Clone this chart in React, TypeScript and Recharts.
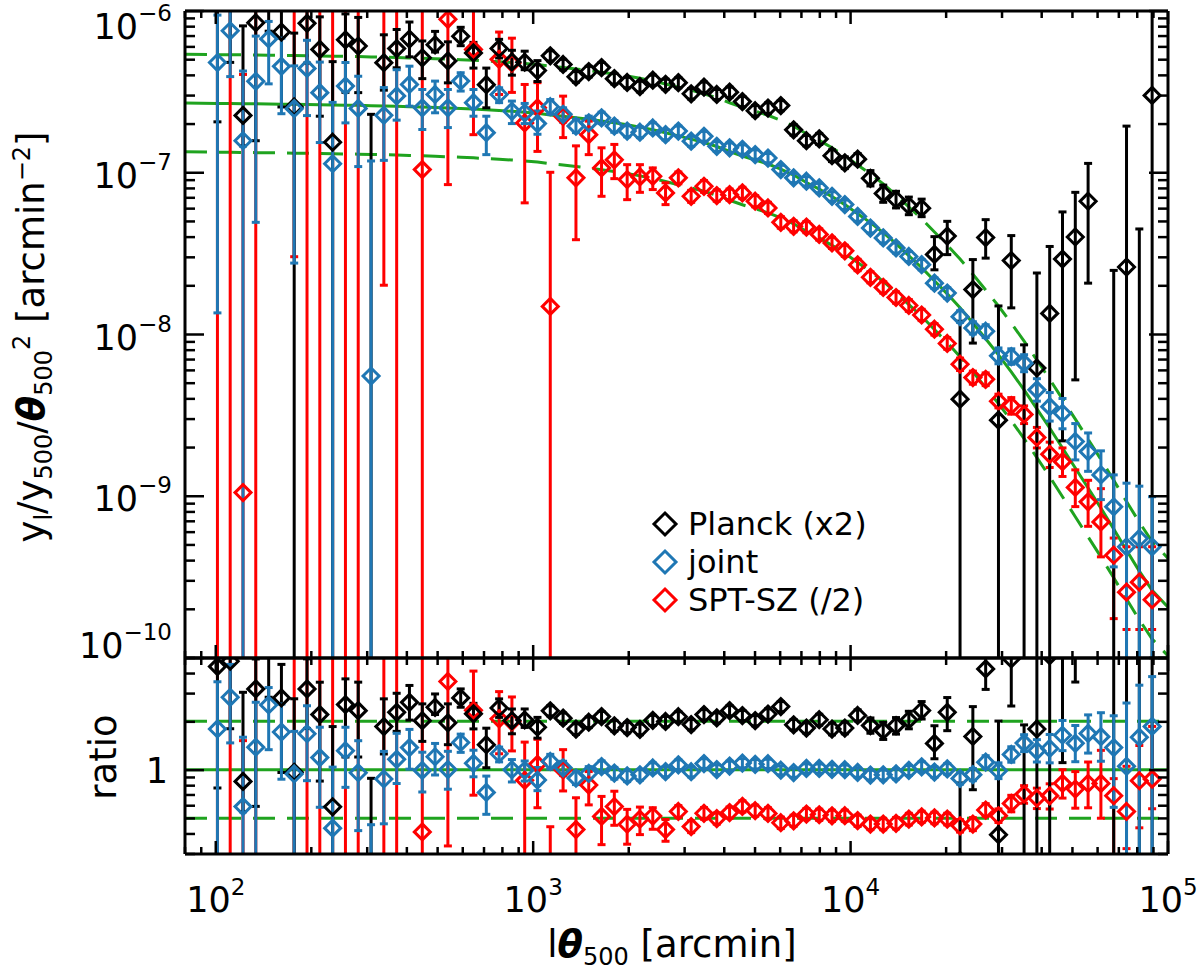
import { ComposedChart, Scatter, Line, XAxis, YAxis, ErrorBar, ReferenceLine } from 'recharts'

const FONT = "'DejaVu Sans', 'Liberation Sans', sans-serif"
const GREEN = '#1fa31f'
const BLUE = '#1f77b4'
const RED = '#ff0000'
const BLACK = '#000000'

// l*theta500 bins (arcmin)
const lTheta = [
  101.2, 111.0, 121.8, 133.6, 146.7, 160.9, 176.5, 193.7, 212.5, 233.2,
  255.9, 280.7, 308.1, 338.0, 370.9, 406.9, 446.6, 489.9, 537.6, 589.9,
  647.1, 710.2, 779.2, 855.0, 938.0, 1029, 1129, 1239, 1360, 1492,
  1637, 1796, 1971, 2162, 2373, 2603, 2856, 3134, 3439, 3773,
  4140, 4543, 4984, 5469, 6001, 6585, 7225, 7928, 8698, 9544,
  10471, 11489, 12606, 13832, 15177, 16653, 18272, 20049, 21998, 24137,
  26485, 29060, 31886, 34986, 38388, 42121, 46217, 50711, 55642, 61052,
  66988, 73502, 80650, 88493,
]

// best-fit model (solid green), sampled at the bins
const model = [
  2.649e-7, 2.646e-7, 2.642e-7, 2.634e-7, 2.63e-7, 2.623e-7, 2.615e-7, 2.608e-7, 2.6e-7, 2.593e-7,
  2.586e-7, 2.578e-7, 2.567e-7, 2.556e-7, 2.545e-7, 2.531e-7, 2.516e-7, 2.502e-7, 2.484e-7, 2.467e-7,
  2.446e-7, 2.421e-7, 2.397e-7, 2.371e-7, 2.34e-7, 2.307e-7, 2.249e-7, 2.208e-7, 2.165e-7, 2.116e-7,
  2.065e-7, 2.013e-7, 1.956e-7, 1.893e-7, 1.824e-7, 1.748e-7, 1.67e-7, 1.596e-7, 1.521e-7, 1.437e-7,
  1.338e-7, 1.255e-7, 1.186e-7, 1.12e-7, 1.043e-7, 9.58e-8, 8.61e-8, 7.84e-8, 7.05e-8, 6.29e-8,
  5.53e-8, 4.87e-8, 4.22e-8, 3.61e-8, 3.04e-8, 2.57e-8, 2.13e-8, 1.77e-8, 1.45e-8, 1.17e-8,
  9.34e-9, 7.44e-9, 5.84e-9, 4.52e-9, 3.45e-9, 2.63e-9, 1.98e-9, 1.49e-9, 1.12e-9, 8.42e-10,
  6.25e-10, 4.63e-10, 3.44e-10, 2.62e-10,
]
const modelEdgeX = [80, 100000]
const modelEdgeY = [2.67e-7, 2.03e-10]

// joint
const jointY = [
  4.74e-7, 7.44e-7, 1.56e-7, 3.63e-7, 6.63e-7, 4.49e-7, 2.46e-7, 4.36e-7, 3.09e-7, 1.125e-7,
  3.39e-7, 2.47e-7, 5.5e-9, 2.24e-7, 2.95e-7, 3.47e-7, 2.49e-7, 3.01e-7, 2.49e-7, 3.64e-7,
  2.68e-7, 1.75e-7, 3.01e-7, 2.37e-7, 2.32e-7, 1.99e-7, 2.53e-7, 2.27e-7, 1.92e-7, 2.01e-7,
  2.16e-7, 1.92e-7, 1.79e-7, 1.76e-7, 1.87e-7, 1.7e-7, 1.79e-7, 1.55e-7, 1.66e-7, 1.44e-7,
  1.41e-7, 1.38e-7, 1.28e-7, 1.22e-7, 1.035e-7, 9.2e-8, 8.77e-8, 7.98e-8, 7.08e-8, 6.29e-8,
  5.32e-8, 4.51e-8, 3.92e-8, 3.4e-8, 3.01e-8, 2.68e-8, 2.06e-8, 1.79e-8, 1.28e-8, 1.09e-8,
  1.04e-8, 7.33e-9, 7.26e-9, 6.61e-9, 4.52e-9, 3.56e-9, 3.24e-9, 2.17e-9, 1.88e-9, 1.35e-9,
  8.58e-10, 4.86e-10, 5.47e-10, 4.86e-10,
]
const jointLo = [
  1.35e-8, 3.88e-7, 1e-13, 4.89e-8, 3.5e-7, 2.29e-7, 2.74e-8, 2.23e-7, 1.52e-7, 1e-13,
  2.01e-7, 1.08e-7, 1e-13, 1.18e-7, 2.09e-7, 2.55e-7, 1.83e-7, 2.32e-7, 1.88e-7, 3.16e-7,
  2.21e-7, 1.28e-7, 2.68e-7, 1.99e-7, 1.99e-7, 1.71e-7, 2.27e-7, 2.03e-7, 1.75e-7, 1.83e-7,
  1.99e-7, 1.76e-7, 1.65e-7, 1.63e-7, 1.74e-7, 1.58e-7, 1.67e-7, 1.44e-7, 1.55e-7, 1.34e-7,
  1.32e-7, 1.29e-7, 1.2e-7, 1.14e-7, 9.7e-8, 8.6e-8, 8.2e-8, 7.45e-8, 6.6e-8, 5.87e-8,
  4.97e-8, 4.21e-8, 3.65e-8, 3.16e-8, 2.8e-8, 2.49e-8, 1.91e-8, 1.66e-8, 1.18e-8, 1.0e-8,
  9.5e-9, 6.55e-9, 6.5e-9, 5.85e-9, 3.85e-9, 2.9e-9, 2.6e-9, 1.67e-9, 1.42e-9, 9.5e-10,
  3.65e-10, 1e-13, 1e-13, 1e-13,
]
const jointHi = [
  9.3e-7, 1.19e-6, 4.2e-7, 6.9e-7, 8.5e-7, 6.7e-7, 4.52e-7, 6.5e-7, 4.77e-7, 2.69e-7,
  4.74e-7, 3.9e-7, 1.17e-7, 3.32e-7, 4.28e-7, 4.5e-7, 3.23e-7, 3.64e-7, 3.23e-7, 4.1e-7,
  3.23e-7, 2.21e-7, 3.31e-7, 2.74e-7, 2.65e-7, 2.38e-7, 2.8e-7, 2.49e-7, 2.11e-7, 2.21e-7,
  2.34e-7, 2.08e-7, 1.93e-7, 1.9e-7, 2.01e-7, 1.83e-7, 1.92e-7, 1.66e-7, 1.78e-7, 1.54e-7,
  1.51e-7, 1.47e-7, 1.37e-7, 1.3e-7, 1.1e-7, 9.8e-8, 9.35e-8, 8.5e-8, 7.55e-8, 6.72e-8,
  5.68e-8, 4.83e-8, 4.2e-8, 3.65e-8, 3.23e-8, 2.88e-8, 2.22e-8, 1.93e-8, 1.39e-8, 1.19e-8,
  1.14e-8, 8.2e-9, 8.1e-9, 7.45e-9, 5.3e-9, 4.35e-9, 4.0e-9, 2.8e-9, 2.45e-9, 1.9e-9,
  1.35e-9, 1.2e-9, 1.15e-9, 9.9e-10,
]

// Planck (x2)
const planckY = [
  1.155e-6, 1.246e-6, 2.235e-7, 8.35e-7, 1.45e-6, 7.31e-7, 2.52e-7, 8.27e-7, 5.71e-7, 1.527e-7,
  6.55e-7, 5.99e-7, 5e-11, 4.73e-7, 5.78e-7, 6.62e-7, 5.07e-7, 6.1e-7, 4.85e-7, 6.88e-7,
  5.43e-7, 3.46e-7, 5.79e-7, 4.78e-7, 4.76e-7, 4.23e-7, 5.21e-7, 4.61e-7, 3.87e-7, 4.17e-7,
  4.41e-7, 3.77e-7, 3.57e-7, 3.37e-7, 3.69e-7, 3.48e-7, 3.56e-7, 3.04e-7, 3.34e-7, 3.01e-7,
  3.11e-7, 2.72e-7, 2.39e-7, 2.48e-7, 2.57e-7, 1.82e-7, 1.56e-7, 1.6e-7, 1.26e-7, 1.14e-7,
  1.2e-7, 9.14e-8, 7.37e-8, 6.77e-8, 6.19e-8, 5.98e-8, 3.1e-8, 4.02e-8, 3.96e-9, 1.88e-8,
  3.94e-8, 2.94e-9, 2.84e-8, 5e-11, 6.17e-9, 1.34e-8, 2.9e-8, 3.97e-8, 6.6e-8, null,
  5e-11, 2.59e-8, 5e-11, 2.97e-7,
]
const planckLo = [
  2.04e-7, 4.75e-7, 1.45e-7, 1.56e-7, 7.4e-7, 2.52e-7, 1e-13, 4.7e-7, 2.21e-7, 1e-13,
  3.1e-7, 3.09e-7, 1e-13, 3.2e-7, 4.4e-7, 5.14e-7, 3.77e-7, 5.5e-7, 3.55e-7, 6.02e-7,
  4.38e-7, 2.49e-7, 5.06e-7, 3.96e-7, 4.28e-7, 3.62e-7, 4.85e-7, 4.27e-7, 3.58e-7, 3.86e-7,
  4.09e-7, 3.49e-7, 3.31e-7, 3.12e-7, 3.43e-7, 3.23e-7, 3.31e-7, 2.82e-7, 3.1e-7, 2.8e-7,
  2.89e-7, 2.53e-7, 2.22e-7, 2.3e-7, 2.39e-7, 1.69e-7, 1.45e-7, 1.48e-7, 1.16e-7, 1.05e-7,
  1.11e-7, 8.2e-8, 6.5e-8, 6.0e-8, 5.45e-8, 5.3e-8, 2.49e-8, 3.09e-8, 1e-13, 8.79e-9,
  2.94e-8, 1e-13, 1.45e-8, 1e-13, 1e-13, 1e-13, 2.19e-9, 5.21e-9, 2.06e-8, null,
  1e-13, 1e-13, 1e-13, 1e-13,
]
const planckHi = [
  2.0e-6, 2.0e-6, 7.98e-7, 1.28e-6, 2.2e-6, 1.18e-6, 7.2e-7, 1.27e-6, 9.07e-7, 4.8e-7,
  9.46e-7, 9.0e-7, 2.27e-7, 7.03e-7, 7.58e-7, 8.43e-7, 6.44e-7, 7.38e-7, 6.36e-7, 7.82e-7,
  6.31e-7, 4.38e-7, 6.59e-7, 5.64e-7, 5.57e-7, 4.87e-7, 5.6e-7, 4.96e-7, 4.17e-7, 4.49e-7,
  4.74e-7, 4.06e-7, 3.84e-7, 3.63e-7, 3.96e-7, 3.74e-7, 3.82e-7, 3.27e-7, 3.59e-7, 3.23e-7,
  3.34e-7, 2.92e-7, 2.57e-7, 2.67e-7, 2.76e-7, 1.96e-7, 1.68e-7, 1.73e-7, 1.37e-7, 1.24e-7,
  1.3e-7, 1.02e-7, 8.3e-8, 7.6e-8, 7.0e-8, 6.8e-8, 3.99e-8, 4.96e-8, 1.2e-8, 2.88e-8,
  5.08e-8, 1.49e-8, 4.05e-8, 8.57e-9, 2.38e-8, 3.47e-8, 5.67e-8, 7.49e-8, 1.13e-7, null,
  2.47e-8, 1.92e-7, 4.45e-8, 1.5e-6,
]

// SPT-SZ (/2)
const sptY = [
  1e-12, 1e-12, 1.05e-9, 1e-12, null, null, 3e-6, 1e-12, 1e-12, 1e-12,
  1e-12, 1e-12, null, 3e-6, 1e-12, null, 1.035e-7, null, 8.76e-7, null,
  5.71e-7, null, 4.96e-7, 4.7e-7, 2.01e-7, 2.49e-7, 1.48e-8, 2.2e-7, 9.2e-8, 1.7e-7,
  1.06e-7, 1.19e-7, 8.98e-8, 9.33e-8, 9.41e-8, 7.43e-8, 9.2e-8, 7.08e-8, 8.16e-8, 7.15e-8,
  7.25e-8, 7.43e-8, 6.6e-8, 6.0e-8, 4.89e-8, 4.62e-8, 4.57e-8, 4.12e-8, 3.65e-8, 3.26e-8,
  2.67e-8, 2.24e-8, 1.94e-8, 1.68e-8, 1.5e-8, 1.31e-8, 1.07e-8, 8.74e-9, 6.51e-9, 5.38e-9,
  5.25e-9, 3.85e-9, 3.61e-9, 3.19e-9, 2.3e-9, 1.81e-9, 1.63e-9, 1.13e-9, 9.2e-10, 6.92e-10,
  4.31e-10, 2.55e-10, 2.94e-10, 2.29e-10,
]
const sptLo = [
  1e-13, 1e-13, 1e-13, 1e-13, null, null, 3e-8, 1e-13, 1e-13, 1e-13,
  1e-13, 1e-13, null, 2e-8, 1e-13, null, 1e-13, null, 8.36e-8, null,
  1.7e-7, null, 3.01e-7, 3.1e-7, 6.45e-8, 1.34e-7, 1e-13, 1.63e-7, 3.82e-8, 1.28e-7,
  7.08e-8, 9.1e-8, 6.75e-8, 7.49e-8, 7.79e-8, 6.29e-8, 8.45e-8, 6.5e-8, 7.5e-8, 6.6e-8,
  6.7e-8, 6.85e-8, 6.1e-8, 5.55e-8, 4.5e-8, 4.27e-8, 4.22e-8, 3.8e-8, 3.37e-8, 3.01e-8,
  2.46e-8, 2.07e-8, 1.79e-8, 1.55e-8, 1.38e-8, 1.21e-8, 9.85e-9, 8.05e-9, 5.95e-9, 4.9e-9,
  4.8e-9, 3.5e-9, 3.2e-9, 2.8e-9, 1.98e-9, 1.5e-9, 1.32e-9, 8.6e-10, 6.5e-10, 4.21e-10,
  1.75e-10, 1.5e-10, 1.5e-10, 1.5e-10,
]
const sptHi = [
  5e-6, 5e-6, 4e-7, 5e-6, null, null, 5e-6, 5e-6, 5e-6, 5e-6,
  5e-6, 5e-6, null, 5e-6, 5e-6, null, 5e-6, null, 2e-6, null,
  1.0e-6, null, 7.31e-7, 6.7e-7, 3.47e-7, 3.56e-7, 9.96e-8, 2.94e-7, 1.45e-7, 2.06e-7,
  1.41e-7, 1.48e-7, 1.11e-7, 1.11e-7, 1.06e-7, 8.58e-8, 1.0e-7, 7.7e-8, 8.85e-8, 7.75e-8,
  7.85e-8, 8.05e-8, 7.15e-8, 6.5e-8, 5.3e-8, 5.0e-8, 4.95e-8, 4.46e-8, 3.95e-8, 3.53e-8,
  2.89e-8, 2.42e-8, 2.1e-8, 1.82e-8, 1.63e-8, 1.42e-8, 1.16e-8, 9.5e-9, 7.1e-9, 5.9e-9,
  5.75e-9, 4.25e-9, 4.05e-9, 3.6e-9, 2.65e-9, 2.15e-9, 1.98e-9, 1.45e-9, 1.25e-9, 1.11e-9,
  5.5e-10, 4.86e-10, 4.86e-10, 4.86e-10,
]

const xTicks = [
  80, 90, 100, 200, 300, 400, 500, 600, 700, 800, 900,
  1000, 2000, 3000, 4000, 5000, 6000, 7000, 8000, 9000,
  10000, 20000, 30000, 40000, 50000, 60000, 70000, 80000, 90000, 100000,
]
const yTicks = [
  1e-10, 2e-10, 3e-10, 4e-10, 5e-10, 6e-10, 7e-10, 8e-10, 9e-10,
  1e-9, 2e-9, 3e-9, 4e-9, 5e-9, 6e-9, 7e-9, 8e-9, 9e-9,
  1e-8, 2e-8, 3e-8, 4e-8, 5e-8, 6e-8, 7e-8, 8e-8, 9e-8,
  1e-7, 2e-7, 3e-7, 4e-7, 5e-7, 6e-7, 7e-7, 8e-7, 9e-7, 1e-6,
]
const ratioTicks = [0.3, 0.4, 0.5, 0.6, 0.7, 0.8, 0.9, 1, 2, 3, 4, 5]
const ratioLines = [2, 1, 0.5]

const legendItems = [
  { label: 'Planck (x2)', color: BLACK },
  { label: 'joint', color: BLUE },
  { label: 'SPT-SZ (/2)', color: RED },
]

type Maybe = number | null
interface Row { x: number; y: number; err: [number, number] }

function buildRows(vals: Maybe[], lo: Maybe[], hi: Maybe[], ratio: boolean): Row[] {
  const rows: Row[] = []
  vals.forEach((v, i) => {
    if (v == null) return
    const m = ratio ? model[i] : 1
    const l = lo[i] as number
    const h = hi[i] as number
    rows.push({ x: lTheta[i], y: v / m, err: [(v - l) / m, (h - v) / m] })
  })
  return rows
}

const modelRows = [
  { x: modelEdgeX[0], y: modelEdgeY[0] },
  ...lTheta.map((x, i) => ({ x, y: model[i] })),
  { x: modelEdgeX[1], y: modelEdgeY[1] },
]
const upperRows = modelRows.map((r) => ({ x: r.x, y: r.y * 2 }))
const lowerRows = modelRows.map((r) => ({ x: r.x, y: r.y / 2 }))

const series = [
  { key: 'spt', color: RED, y: sptY, lo: sptLo, hi: sptHi },
  { key: 'planck', color: BLACK, y: planckY, lo: planckLo, hi: planckHi },
  { key: 'joint', color: BLUE, y: jointY, lo: jointLo, hi: jointHi },
]

const isDecade = (v: number) => Math.abs(Math.log10(v) - Math.round(Math.log10(v))) < 1e-6
const expText = (v: number) => {
  const e = Math.round(Math.log10(v))
  return e < 0 ? '\u2212' + Math.abs(e) : String(e)
}

function diamond(color: string) {
  return (p: any) => {
    const { cx, cy } = p
    if (!Number.isFinite(cx) || !Number.isFinite(cy)) return <g />
    const r = 8
    return (
      <path
        d={`M${cx},${cy - r}L${cx + r},${cy}L${cx},${cy + r}L${cx - r},${cy}Z`}
        fill="none"
        stroke={color}
        strokeWidth={3}
      />
    )
  }
}

function xTick(dir: 1 | -1, label: boolean) {
  return (p: any) => {
    const { x, y, payload } = p
    const major = isDecade(payload.value)
    const len = major ? 13 : 7
    return (
      <g>
        <line x1={x} x2={x} y1={y} y2={y + dir * len} stroke={BLACK} strokeWidth={2.5} />
        {label && major && (
          <text x={x} y={y + 58} textAnchor="middle" fontFamily={FONT} fontSize={35} fill={BLACK}>
            10<tspan fontSize={23} dy={-17}>{expText(payload.value)}</tspan>
          </text>
        )}
      </g>
    )
  }
}

function yTick(dir: 1 | -1, mode: 'pow' | 'ratio') {
  return (p: any) => {
    const { x, y, payload } = p
    const v = payload.value as number
    const major = mode === 'ratio' ? v === 1 : isDecade(v)
    const len = major ? 19 : 10
    let labelEl = null
    if (mode === 'pow' && major && dir === 1) {
      const e = Math.round(Math.log10(v))
      const shift = e === -6 ? 13 : e === -10 ? -15 : 0
      labelEl = (
        <text x={x - 13} y={y + 15 + shift} textAnchor="end" fontFamily={FONT} fontSize={35} fill={BLACK}>
          10<tspan fontSize={23} dy={-18}>{expText(v)}</tspan>
        </text>
      )
    }
    if (mode === 'ratio' && v === 1 && dir === 1) {
      labelEl = (
        <text x={x - 17} y={y + 13} textAnchor="end" fontFamily={FONT} fontSize={35} fill={BLACK}>
          1
        </text>
      )
    }
    return (
      <g>
        <line x1={x} x2={x + dir * len} y1={y} y2={y} stroke={BLACK} strokeWidth={2.5} />
        {labelEl}
      </g>
    )
  }
}

const frame = { stroke: BLACK, strokeWidth: 3 }

function Legend() {
  return (
    <g>
      {legendItems.map((it, i) => {
        const cy = 524 + i * 38
        const cx = 665
        const r = 11
        return (
          <g key={it.label}>
            <path
              d={`M${cx},${cy - r}L${cx + r},${cy}L${cx},${cy + r}L${cx - r},${cy}Z`}
              fill="none"
              stroke={it.color}
              strokeWidth={3}
            />
            <text x={688} y={cy + 11} fontFamily={FONT} fontSize={32} fill={BLACK}>
              {it.label}
            </text>
          </g>
        )
      })}
    </g>
  )
}

function Titles() {
  const sub = { fontSize: 24 }
  return (
    <g fontFamily={FONT} fill={BLACK}>
      <text transform="translate(44,337) rotate(-90)" textAnchor="middle" fontSize={37}>
        y<tspan {...sub} dy={8}>l</tspan>
        <tspan dy={-8}>/y</tspan>
        <tspan {...sub} dy={8}>500</tspan>
        <tspan dy={-8}>/</tspan>
        <tspan fontWeight="bold" fontStyle="italic">θ</tspan>
        <tspan {...sub} dy={8}>500</tspan>
        <tspan {...sub} dy={-22}>2</tspan>
        <tspan dy={14}>{' [arcmin'}</tspan>
        <tspan {...sub} dy={-14}>{'\u22122'}</tspan>
        <tspan dy={14}>]</tspan>
      </text>
      <text transform="translate(116,757) rotate(-90)" textAnchor="middle" fontSize={37}>
        ratio
      </text>
      <text x={672} y={957} textAnchor="middle" fontSize={37}>
        l<tspan fontWeight="bold" fontStyle="italic">θ</tspan>
        <tspan {...sub} dy={8}>500</tspan>
        <tspan dy={-8}>{' [arcmin]'}</tspan>
      </text>
    </g>
  )
}

const axisCommon = {
  type: 'number' as const,
  scale: 'log' as const,
  allowDataOverflow: true,
  interval: 0 as const,
  tickSize: 0,
  tickMargin: 0,
  tickLine: false,
}

// plot boxes: x 185..1168, top panel y 11..658, ratio panel y 658..854 (axes take 1px each)
const X0 = 185
const X1 = 1168
const panels = [
  { key: 'top', y0: 11, y1: 658, domain: [1e-10, 1e-6], ticks: yTicks, mode: 'pow' as const, ratio: false },
  { key: 'ratio', y0: 658, y1: 854, domain: [0.3, 5], ticks: ratioTicks, mode: 'ratio' as const, ratio: true },
]

function chartMargin(y0: number, y1: number) {
  return { top: y0 - 1, right: 1200 - X1 - 1, bottom: 972 - y1 - 1, left: X0 - 1 }
}

export default function App() {
  return (
    <div style={{ position: 'absolute', left: 0, top: 0, width: 1200, height: 972, background: '#fff' }}>
      {panels.map((pn) => (
        <div
          key={pn.key + '-data'}
          style={{ position: 'absolute', left: X0, top: pn.y0, width: X1 - X0, height: pn.y1 - pn.y0, overflow: 'hidden' }}
        >
          <div style={{ position: 'absolute', left: -X0, top: -pn.y0 }}>
            <ComposedChart width={1200} height={972} margin={chartMargin(pn.y0, pn.y1)}>
              <XAxis {...axisCommon} xAxisId="b" dataKey="x" domain={[80, 100000]} ticks={xTicks} height={1} tick={false} axisLine={false} />
              <YAxis {...axisCommon} yAxisId="l" domain={pn.domain} ticks={pn.ticks} width={1} tick={false} axisLine={false} />
              {!pn.ratio && (
                <Line xAxisId="b" yAxisId="l" data={modelRows} dataKey="y" stroke={GREEN} strokeWidth={3} dot={false} isAnimationActive={false} />
              )}
              {!pn.ratio && (
                <Line xAxisId="b" yAxisId="l" data={upperRows} dataKey="y" stroke={GREEN} strokeWidth={3} strokeDasharray="22 12" dot={false} isAnimationActive={false} />
              )}
              {!pn.ratio && (
                <Line xAxisId="b" yAxisId="l" data={lowerRows} dataKey="y" stroke={GREEN} strokeWidth={3} strokeDasharray="22 12" dot={false} isAnimationActive={false} />
              )}
              {pn.ratio &&
                ratioLines.map((v) => (
                  <ReferenceLine key={v} xAxisId="b" yAxisId="l" y={v} stroke={GREEN} strokeWidth={3} strokeDasharray={v === 1 ? undefined : '22 12'} />
                ))}
              {series.map((s) => (
                <Scatter key={s.key} xAxisId="b" yAxisId="l" data={buildRows(s.y, s.lo, s.hi, pn.ratio)} dataKey="y" shape={diamond(s.color)} isAnimationActive={false}>
                  <ErrorBar dataKey="err" direction="y" width={4} stroke={s.color} strokeWidth={3} isAnimationActive={false} />
                </Scatter>
              ))}
            </ComposedChart>
          </div>
        </div>
      ))}
      {panels.map((pn) => (
        <div key={pn.key + '-axes'} style={{ position: 'absolute', left: 0, top: 0 }}>
          <ComposedChart width={1200} height={972} margin={chartMargin(pn.y0, pn.y1)} data={modelRows}>
            <XAxis {...axisCommon} xAxisId="b" dataKey="x" domain={[80, 100000]} ticks={xTicks} orientation="bottom" height={1} axisLine={frame} tick={xTick(-1, pn.ratio)} />
            <XAxis {...axisCommon} xAxisId="t" dataKey="x" domain={[80, 100000]} ticks={xTicks} orientation="top" height={1} axisLine={frame} tick={xTick(1, false)} />
            <YAxis {...axisCommon} yAxisId="l" domain={pn.domain} ticks={pn.ticks} width={1} axisLine={frame} tick={yTick(1, pn.mode)} />
            <YAxis {...axisCommon} yAxisId="r" orientation="right" domain={pn.domain} ticks={pn.ticks} width={1} axisLine={frame} tick={yTick(-1, pn.mode)} />
            <Line xAxisId="b" yAxisId="l" dataKey="y" stroke="none" dot={false} isAnimationActive={false} />
            <Line xAxisId="t" yAxisId="r" dataKey="y" stroke="none" dot={false} isAnimationActive={false} />
            {pn.ratio ? <Titles /> : <Legend />}
          </ComposedChart>
        </div>
      ))}
    </div>
  )
}
